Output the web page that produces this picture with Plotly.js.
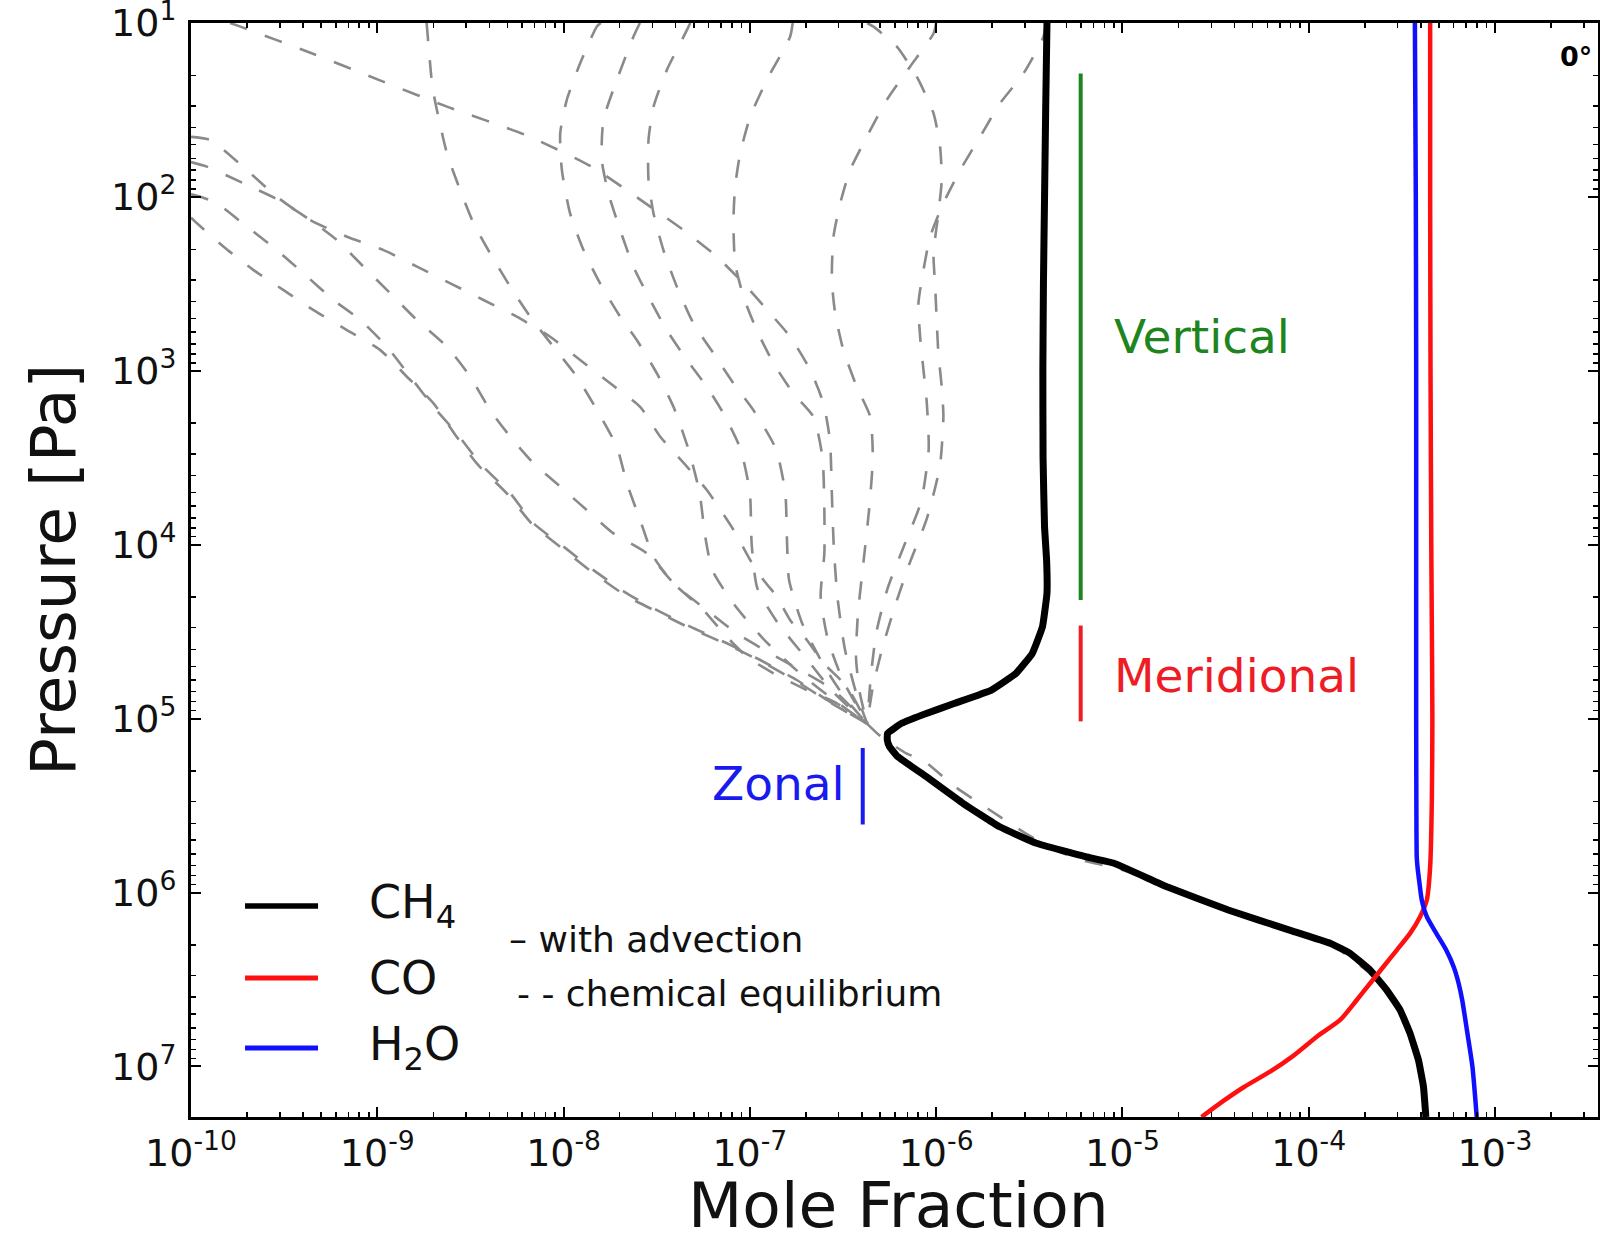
<!DOCTYPE html>
<html>
<head>
<meta charset="utf-8">
<script src="https://cdn.plot.ly/plotly-3.0.1.min.js"></script>
<style>html,body{margin:0;padding:0;background:#fff;}#chart{width:1600px;height:1242px;}</style>
</head>
<body>
<div id="chart"></div>
<script>
// ---- data (log10 of mole fraction, log10 of pressure [Pa]) ----
const ch4LogP = [1.0,1.5,2.0,2.5,3.0,3.5,3.9,4.088,4.28,4.471,4.625,4.740,4.836,4.912,4.979,5.027,5.085,5.125,5.162,5.219,5.334,5.487,5.622,5.717,5.794,5.832,5.967,6.101,6.216,6.292,6.350,6.446,6.561,6.676,6.810,6.963,7.116,7.291];
const ch4LogX = [-5.405,-5.412,-5.418,-5.424,-5.427,-5.426,-5.418,-5.407,-5.405,-5.429,-5.484,-5.571,-5.703,-5.900,-6.075,-6.185,-6.261,-6.262,-6.250,-6.206,-6.053,-5.856,-5.659,-5.462,-5.199,-5.045,-4.761,-4.432,-4.103,-3.885,-3.778,-3.671,-3.581,-3.509,-3.456,-3.411,-3.384,-3.371];

const coLogP = [1.0,2.0,3.0,4.0,4.318,5.0,5.468,5.852,6.043,6.139,6.235,6.331,6.427,6.522,6.618,6.733,6.824,6.941,7.029,7.117,7.2,7.291];
const coLogX = [-3.348,-3.348,-3.346,-3.342,-3.340,-3.336,-3.339,-3.348,-3.366,-3.402,-3.456,-3.527,-3.599,-3.670,-3.742,-3.831,-3.950,-4.085,-4.205,-4.345,-4.46,-4.575];

const h2oLogP = [1.0,2.0,3.0,4.0,5.0,5.5,5.796,5.852,5.95,6.043,6.139,6.235,6.331,6.427,6.523,6.618,6.810,7.002,7.291];
const h2oLogX = [-3.430,-3.425,-3.423,-3.423,-3.423,-3.422,-3.420,-3.416,-3.405,-3.393,-3.366,-3.315,-3.262,-3.222,-3.195,-3.176,-3.148,-3.121,-3.098];

// chemical-equilibrium CH4 profiles (dashed)
const eqA_X = [-9.79,-9.735,-9.352,-8.969,-8.626,-8.204,-7.85,-7.535,-7.356,-7.177,-7.034,-6.891,-6.784,-6.676,-6.605,-6.57,-6.56,-6.55,-6.53,-6.49,-6.43,-6.37];
const eqA_P = [1.0,1.021,1.174,1.337,1.481,1.644,1.826,2.056,2.191,2.344,2.497,2.670,2.804,2.995,3.187,3.4,3.7,4.0,4.3,4.6,4.85,5.03];
const eqB_X = [-8.735,-8.704,-8.680,-8.626,-8.555,-8.483,-8.394,-8.286,-8.179,-8.054,-7.929,-7.821,-7.714,-7.660,-7.589,-7.517,-7.410,-7.249,-7.141,-7.016,-6.873,-6.694,-6.533,-6.37];
const eqB_P = [1.0,1.366,1.5,1.750,1.961,2.152,2.325,2.517,2.689,2.862,3.034,3.226,3.437,3.647,3.858,4.069,4.222,4.376,4.510,4.644,4.740,4.836,4.912,5.03];
const eqC_X = [-7.80,-7.822,-7.911,-7.983,-8.018,-8.009,-7.965,-7.893,-7.804,-7.696,-7.607,-7.499,-7.41,-7.33,-7.27,-7.24,-7.2,-7.08,-6.92,-6.72,-6.54,-6.37];
const eqC_P = [1.0,1.021,1.232,1.443,1.635,1.846,2.095,2.306,2.497,2.689,2.823,3.015,3.207,3.45,3.7,3.95,4.15,4.35,4.55,4.75,4.9,5.03];
const eqD_X = [-7.59,-7.625,-7.714,-7.786,-7.795,-7.759,-7.696,-7.625,-7.535,-7.446,-7.338,-7.231,-7.142,-7.05,-7.0,-6.99,-6.96,-6.85,-6.7,-6.55,-6.37];
const eqD_P = [1.0,1.079,1.328,1.558,1.788,1.980,2.191,2.401,2.593,2.766,2.938,3.092,3.245,3.45,3.7,4.0,4.25,4.45,4.65,4.85,5.03];
const eqF_X = [-7.32,-7.338,-7.446,-7.517,-7.544,-7.544,-7.517,-7.464,-7.392,-7.303,-7.195,-7.088,-6.981,-6.86,-6.81,-6.80,-6.79,-6.72,-6.6,-6.49,-6.37];
const eqF_P = [1.0,1.041,1.271,1.481,1.673,1.903,2.095,2.306,2.516,2.727,2.900,3.072,3.226,3.45,3.7,4.0,4.2,4.45,4.7,4.88,5.03];
const eqG_X = [-6.77,-6.784,-6.909,-6.998,-7.052,-7.079,-7.088,-7.079,-7.034,-6.963,-6.873,-6.766,-6.659,-6.61,-6.60,-6.60,-6.62,-6.58,-6.50,-6.37];
const eqG_P = [1.0,1.079,1.328,1.539,1.750,1.941,2.133,2.382,2.574,2.766,2.957,3.130,3.264,3.5,3.8,4.05,4.3,4.55,4.78,5.03];
const eqH_X = [-6.00,-6.014,-6.140,-6.265,-6.372,-6.462,-6.515,-6.551,-6.560,-6.542,-6.498,-6.426,-6.354,-6.34,-6.36,-6.39,-6.42,-6.43,-6.41,-6.37];
const eqH_P = [1.0,1.060,1.251,1.443,1.654,1.846,2.037,2.229,2.478,2.670,2.881,3.092,3.264,3.5,3.8,4.1,4.4,4.65,4.85,5.03];
const eqE_X = [-6.37,-6.336,-6.211,-6.104,-6.014,-5.979,-5.970,-5.988,-6.014,-6.005,-5.997,-5.988,-5.970,-5.961,-5.98,-6.05,-6.14,-6.22,-6.29,-6.34,-6.37];
const eqE_P = [1.0,1.021,1.136,1.309,1.520,1.711,1.903,2.095,2.325,2.516,2.708,2.900,3.092,3.264,3.55,3.85,4.1,4.35,4.6,4.82,5.03];
const eqI_X = [-5.41,-5.424,-5.531,-5.657,-5.764,-5.871,-5.961,-6.032,-6.068,-6.095,-6.086,-6.068,-6.050,-6.04,-6.08,-6.17,-6.26,-6.32,-6.35,-6.37];
const eqI_P = [1.0,1.079,1.290,1.462,1.654,1.846,2.037,2.229,2.421,2.612,2.804,2.995,3.187,3.45,3.75,4.0,4.25,4.5,4.75,5.03];
const eqJ_X = [-10,-9.897,-9.700,-9.539,-9.360,-9.163,-8.966,-8.787,-8.608,-8.430,-8.251,-8.072,-7.911,-7.750,-7.589,-7.481,-7.338,-7.231,-7.087,-6.998,-6.927,-6.855,-6.784,-6.694,-6.604,-6.479,-6.37];
const eqJ_P = [1.655,1.673,1.846,1.999,2.133,2.229,2.306,2.401,2.497,2.593,2.689,2.804,2.938,3.072,3.207,3.379,3.551,3.686,3.916,4.088,4.203,4.299,4.433,4.548,4.682,4.816,5.03];
const eqK_X = [-10,-9.915,-9.718,-9.530,-9.360,-9.217,-9.074,-8.930,-8.787,-8.626,-8.501,-8.394,-8.286,-8.161,-8.018,-7.875,-7.732,-7.553,-7.392,-7.231,-7.070,-6.891,-6.730,-6.551,-6.37];
const eqK_P = [1.80,1.826,1.922,2.018,2.133,2.248,2.401,2.555,2.708,2.862,3.034,3.226,3.379,3.532,3.666,3.801,3.935,4.050,4.241,4.376,4.510,4.625,4.721,4.836,5.03];
const eqM_X = [-10,-9.950,-9.861,-9.700,-9.539,-9.396,-9.235,-9.091,-8.948,-8.823,-8.698,-8.573,-8.448,-8.286,-8.161,-8.000,-7.839,-7.660,-7.499,-7.320,-7.123,-6.944,-6.748,-6.586,-6.37];
const eqM_P = [1.985,1.999,2.037,2.171,2.306,2.440,2.593,2.708,2.862,3.034,3.207,3.360,3.532,3.705,3.877,4.011,4.146,4.280,4.376,4.471,4.567,4.663,4.778,4.893,5.03];
const eqN_X = [-10,-9.968,-9.825,-9.664,-9.503,-9.342,-9.163,-8.984,-8.841,-8.698,-8.58,-8.46,-8.30,-8.17,-8.01,-7.85,-7.67,-7.50,-7.32,-7.12,-6.94,-6.75,-6.58,-6.37];
const eqN_P = [2.12,2.152,2.286,2.421,2.536,2.651,2.766,2.881,3.034,3.187,3.37,3.54,3.71,3.88,4.02,4.155,4.29,4.385,4.48,4.575,4.67,4.785,4.9,5.03];
const eqDeep_X = [-6.37,-6.30,-6.16,-6.07,-5.90,-5.72,-5.52,-5.35,-5.22,-5.0,-4.76,-4.43,-4.10,-3.88,-3.70,-3.58,-3.51,-3.456,-3.411,-3.384,-3.371];
const eqDeep_P = [5.03,5.10,5.20,5.24,5.39,5.52,5.66,5.76,5.813,5.87,5.975,6.11,6.22,6.30,6.44,6.56,6.676,6.81,6.963,7.116,7.291];

// region markers (log10 x, log10 p range)
const verticalBarLogX = -5.224, verticalBarLogP = [1.290, 4.318];
const meridBarLogX = -5.224, meridBarLogP = [4.465, 5.016];
const zonalBarLogX = -6.394, zonalBarLogP = [5.169, 5.609];

const xTickVals = [1e-10,1e-9,1e-8,1e-7,1e-6,1e-5,1e-4,1e-3];
const xTickText = ['10<sup>-10</sup>','10<sup>-9</sup>','10<sup>-8</sup>','10<sup>-7</sup>','10<sup>-6</sup>','10<sup>-5</sup>','10<sup>-4</sup>','10<sup>-3</sup>'];
const yTickVals = [1e1,1e2,1e3,1e4,1e5,1e6,1e7];
const yTickText = ['10<sup>1</sup>','10<sup>2</sup>','10<sup>3</sup>','10<sup>4</sup>','10<sup>5</sup>','10<sup>6</sup>','10<sup>7</sup>'];

// ---- build ----
const pw = a => a.map(v => Math.pow(10, v));
const FONT = 'DejaVu Sans, Verdana, sans-serif';
const traces = [];
const eqPairs = [[eqA_X,eqA_P],[eqB_X,eqB_P],[eqC_X,eqC_P],[eqD_X,eqD_P],[eqF_X,eqF_P],[eqG_X,eqG_P],
  [eqH_X,eqH_P],[eqE_X,eqE_P],[eqI_X,eqI_P],[eqJ_X,eqJ_P],[eqK_X,eqK_P],[eqM_X,eqM_P],[eqN_X,eqN_P],[eqDeep_X,eqDeep_P]];
eqPairs.forEach(([lx, lp]) => traces.push({
  x: pw(lx), y: pw(lp), type: 'scatter', mode: 'lines', hoverinfo: 'skip', showlegend: false,
  line: {color: '#8a8a8a', width: 2.6, dash: '18px,19px', shape: 'spline', smoothing: 0.6}
}));
traces.push({x: pw(ch4LogX), y: pw(ch4LogP), type:'scatter', mode:'lines', name:'CH4', showlegend:false,
  line:{color:'#000000', width:7, shape:'spline', smoothing:0.3}});
traces.push({x: pw(coLogX), y: pw(coLogP), type:'scatter', mode:'lines', name:'CO', showlegend:false,
  line:{color:'#ff1010', width:4.5, shape:'spline', smoothing:0.6}});
traces.push({x: pw(h2oLogX), y: pw(h2oLogP), type:'scatter', mode:'lines', name:'H2O', showlegend:false,
  line:{color:'#1010ff', width:4.5, shape:'spline', smoothing:0.6}});
// bars
[[verticalBarLogX, verticalBarLogP, '#1e841e'], [meridBarLogX, meridBarLogP, '#ee1c25'], [zonalBarLogX, zonalBarLogP, '#1a1aee']]
  .forEach(([bx, bp, c]) => traces.push({x: pw([bx, bx]), y: pw(bp), type:'scatter', mode:'lines', hoverinfo:'skip',
    showlegend:false, line:{color:c, width:4}}));

const axisCommon = {
  type: 'log', showgrid: false, zeroline: false, showline: true, linecolor: '#000', linewidth: 3,
  mirror: 'allticks', ticks: 'inside', ticklen: 10, tickwidth: 2, tickcolor: '#000',
  tickfont: {family: FONT, size: 38, color: '#111'}, tickmode: 'array', ticklabeloverflow: 'allow',
  minor: {ticks: 'inside', ticklen: 5, tickwidth: 1.5, tickcolor: '#000', dtick: 'D1', showgrid: false}
};

const layout = {
  width: 1600, height: 1242,
  margin: {l: 191, r: 2, t: 23, b: 125},
  paper_bgcolor: '#fff', plot_bgcolor: '#fff',
  font: {family: FONT, color: '#111'},
  xaxis: Object.assign({}, axisCommon, {
    range: [-10, -2.447], tickvals: xTickVals, ticktext: xTickText, ticklabelstandoff: 0
  }),
  yaxis: Object.assign({}, axisCommon, {
    range: [7.291, 1.0], tickvals: yTickVals, ticktext: yTickText, ticklabelstandoff: 4,
    title: {text: 'Pressure [Pa]', font: {family: FONT, size: 63, color: '#111'}, standoff: 16}
  }),
  shapes: [
    {type:'line', xref:'paper', yref:'paper', x0:0.0384, x1:0.0903, y0:0.1929, y1:0.1929, line:{color:'#000', width:5.5}},
    {type:'line', xref:'paper', yref:'paper', x0:0.0384, x1:0.0903, y0:0.1271, y1:0.1271, line:{color:'#ff1010', width:5}},
    {type:'line', xref:'paper', yref:'paper', x0:0.0384, x1:0.0903, y0:0.0631, y1:0.0631, line:{color:'#1010ff', width:5}}
  ],
  annotations: [
    {xref:'paper', yref:'paper', x:0.5025, y:-0.0805, text:'Mole Fraction', showarrow:false, xanchor:'center', yanchor:'middle',
      font:{family:FONT, size:63, color:'#111'}},
    {xref:'x', yref:'y', x:-5.054, y:2.804, text:'Vertical', showarrow:false, xanchor:'left', yanchor:'middle',
      font:{family:FONT, size:47, color:'#1e841e'}},
    {xref:'x', yref:'y', x:-5.054, y:4.752, text:'Meridional', showarrow:false, xanchor:'left', yanchor:'middle',
      font:{family:FONT, size:47, color:'#ee1c25'}},
    {xref:'x', yref:'y', x:-6.478, y:5.374, text:'Zonal', showarrow:false, xanchor:'right', yanchor:'middle',
      font:{family:FONT, size:47, color:'#1a1aee'}},
    {xref:'paper', yref:'paper', x:0.1251, y:0.1929, text:'CH<sub>4</sub>', showarrow:false, xanchor:'left', yanchor:'middle',
      font:{family:FONT, size:46, color:'#111'}},
    {xref:'paper', yref:'paper', x:0.1251, y:0.1271, text:'CO', showarrow:false, xanchor:'left', yanchor:'middle',
      font:{family:FONT, size:46, color:'#111'}},
    {xref:'paper', yref:'paper', x:0.1251, y:0.0631, text:'H<sub>2</sub>O', showarrow:false, xanchor:'left', yanchor:'middle',
      font:{family:FONT, size:46, color:'#111'}},
    {xref:'paper', yref:'paper', x:0.2246, y:0.1627, text:'– with advection', showarrow:false, xanchor:'left', yanchor:'middle',
      font:{family:FONT, size:36, color:'#111'}},
    {xref:'paper', yref:'paper', x:0.2303, y:0.1133, text:'- - chemical equilibrium', showarrow:false, xanchor:'left', yanchor:'middle',
      font:{family:FONT, size:36, color:'#111'}},
    {xref:'paper', yref:'paper', x:0.9972, y:0.9698, text:'<b>0°</b>', showarrow:false, xanchor:'right', yanchor:'middle',
      font:{family:FONT, size:27, color:'#000'}}
  ]
};

Plotly.newPlot('chart', traces, layout, {staticPlot: true, displayModeBar: false});
</script>
</body>
</html>
